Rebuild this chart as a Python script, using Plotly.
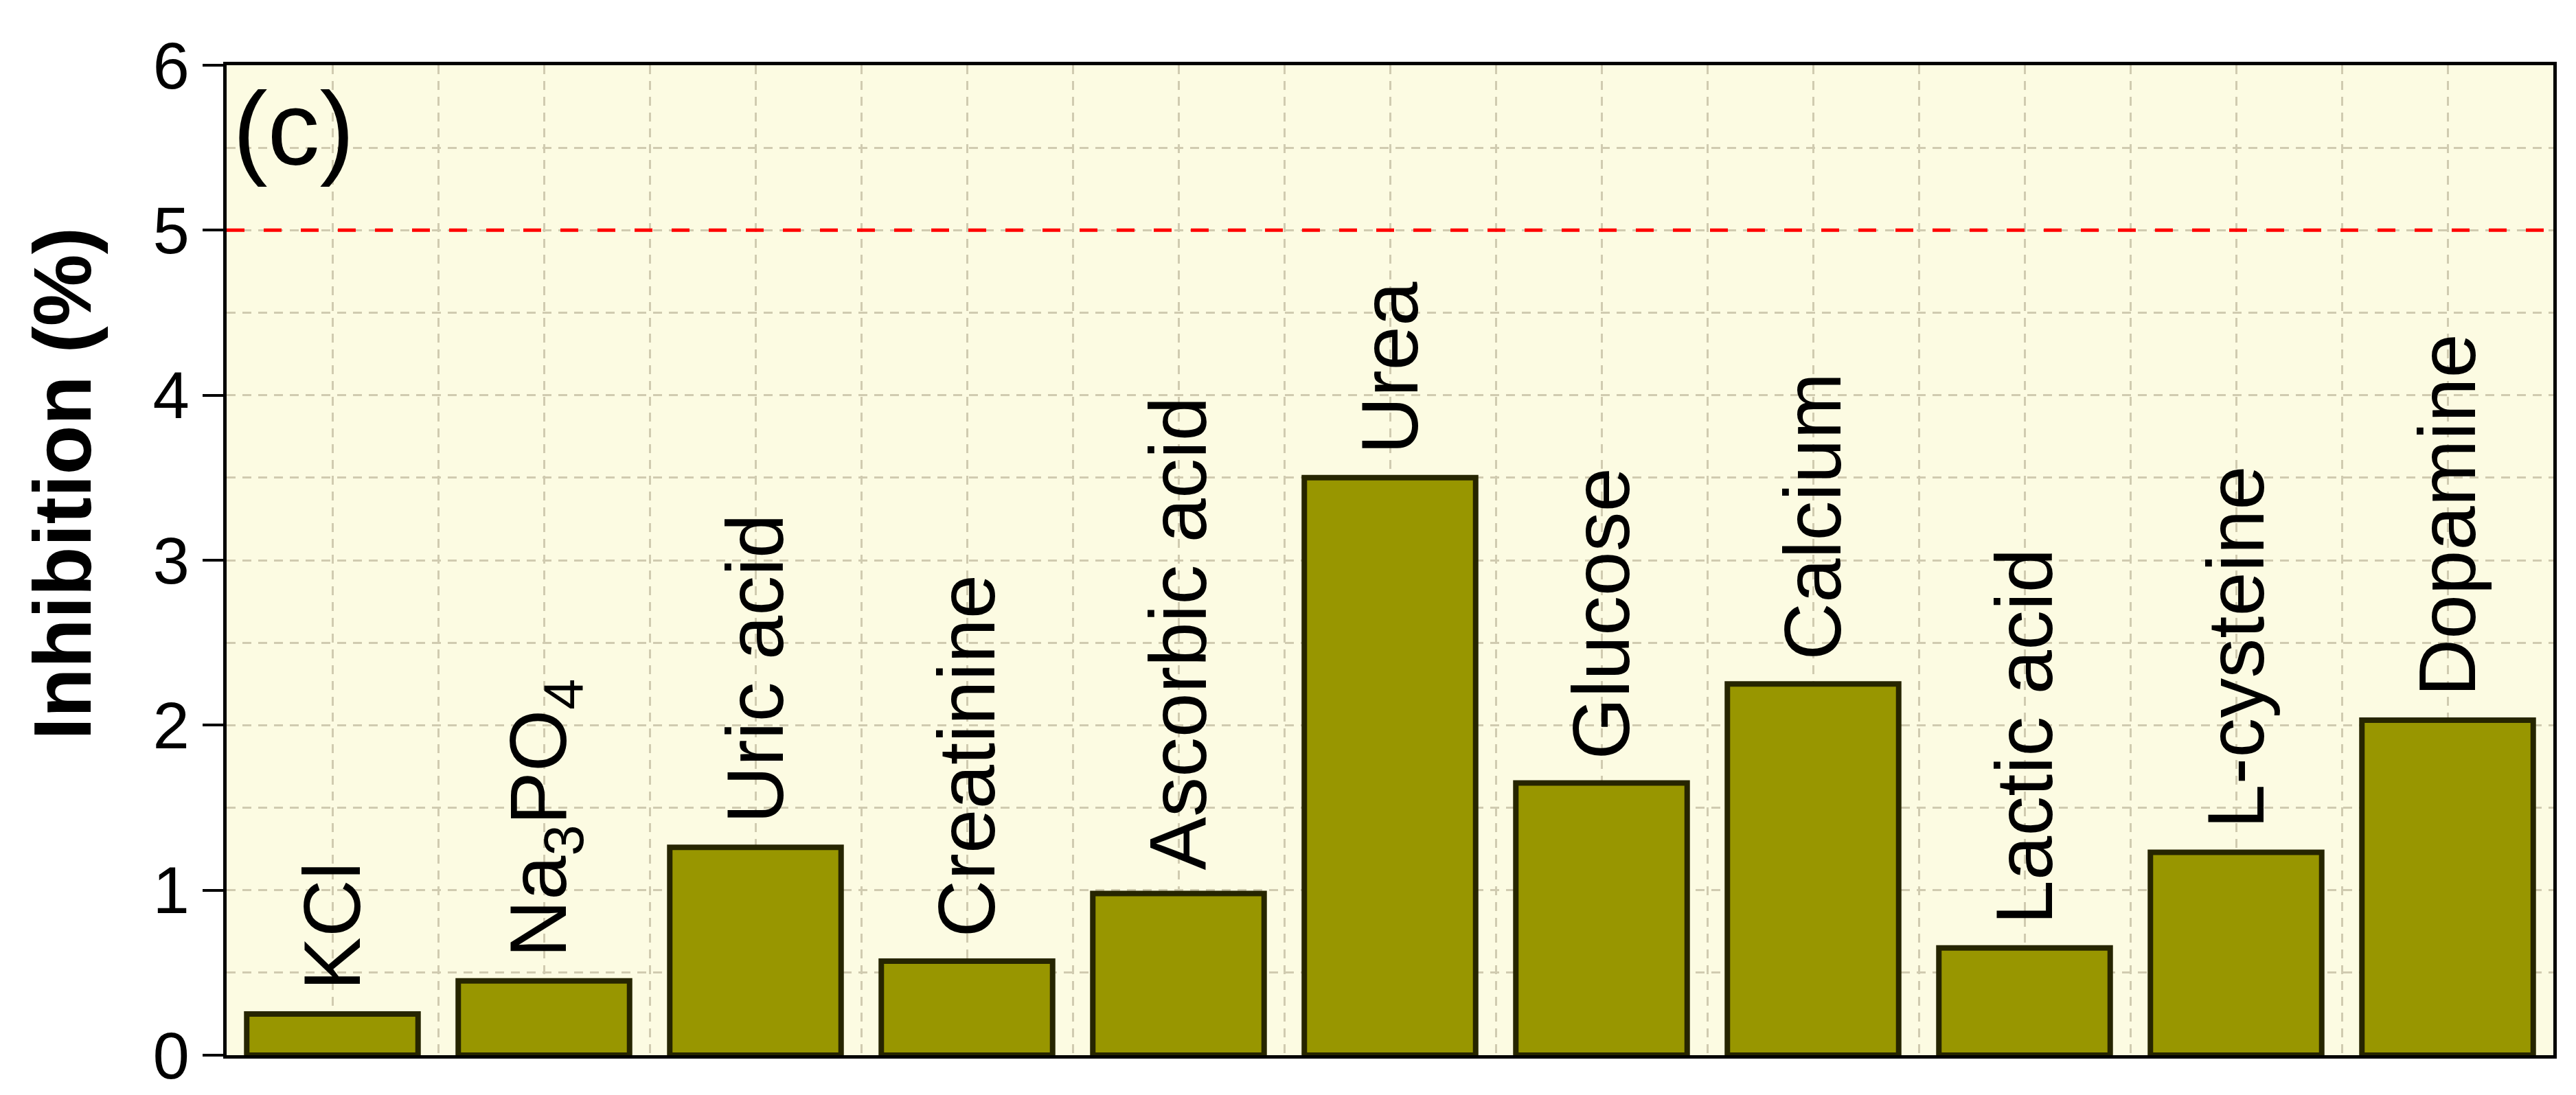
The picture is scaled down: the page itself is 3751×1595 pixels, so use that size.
import plotly.graph_objects as go

substances = ['KCl', 'Na<sub>3</sub>PO<sub>4</sub>', 'Uric acid', 'Creatinine', 'Ascorbic acid',
              'Urea', 'Glucose', 'Calcium', 'Lactic acid', 'L-cysteine', 'Dopamine']
inhibition = [0.25, 0.45, 1.26, 0.57, 0.98, 3.50, 1.65, 2.25, 0.65, 1.23, 2.03]
threshold = 5
y_ticks = [0, 1, 2, 3, 4, 5, 6]
panel_label = '(c)'
y_title = '<b>Inhibition (%)</b>'

font = 'Arial, Liberation Sans, sans-serif'
grid_col = '#d0cbb0'
x_pos = list(range(len(substances)))

fig = go.Figure()
fig.add_trace(go.Bar(
    x=x_pos, y=inhibition, width=0.81,
    marker=dict(color='#989600', line=dict(color='#262500', width=8)),
    showlegend=False,
))

# threshold line
fig.add_hline(y=threshold, line=dict(color='#ff0000', width=5, dash='26px,28px'))

# labels above bars
for xp, name, val in zip(x_pos, substances, inhibition):
    fig.add_annotation(x=xp, y=val, text=name, textangle=-90, showarrow=False,
                       xanchor='center', yanchor='bottom', yshift=32,
                       font=dict(family=font, size=116, color='black'))

fig.add_annotation(xref='paper', yref='paper', x=0.002, y=0.936, text=panel_label,
                   showarrow=False, xanchor='left', yanchor='middle',
                   font=dict(family=font, size=152, color='black'))

fig.add_annotation(xref='paper', yref='paper', x=-0.0705, y=0.577, text=y_title,
                   textangle=-90, showarrow=False, xanchor='center', yanchor='middle',
                   font=dict(family=font, size=118, color='black'))

fig.update_xaxes(range=[-0.5, len(substances) - 0.5], tick0=0, dtick=0.5,
                 showticklabels=False, ticks='', showgrid=True, gridcolor=grid_col,
                 gridwidth=3, griddash='13px,10px', zeroline=False,
                 showline=True, mirror=True, linecolor='black', linewidth=5)
fig.update_yaxes(range=[0, 6], tickvals=y_ticks, ticks='outside', ticklen=30,
                 tickwidth=4, tickcolor='black', showgrid=True, gridcolor=grid_col,
                 gridwidth=3, griddash='13px,10px', zeroline=False,
                 minor=dict(dtick=0.5, showgrid=True, gridcolor=grid_col,
                            gridwidth=3, griddash='13px,10px', ticks=''),
                 showline=True, mirror=True, linecolor='black', linewidth=5,
                 tickfont=dict(family=font, size=96, color='black'))

fig.update_layout(
    width=3751, height=1595,
    margin=dict(l=322, r=41, t=87, b=55),
    plot_bgcolor='#fcfbe2', paper_bgcolor='white',
    font=dict(family=font, color='black'),
)

fig.write_html('out.html')
